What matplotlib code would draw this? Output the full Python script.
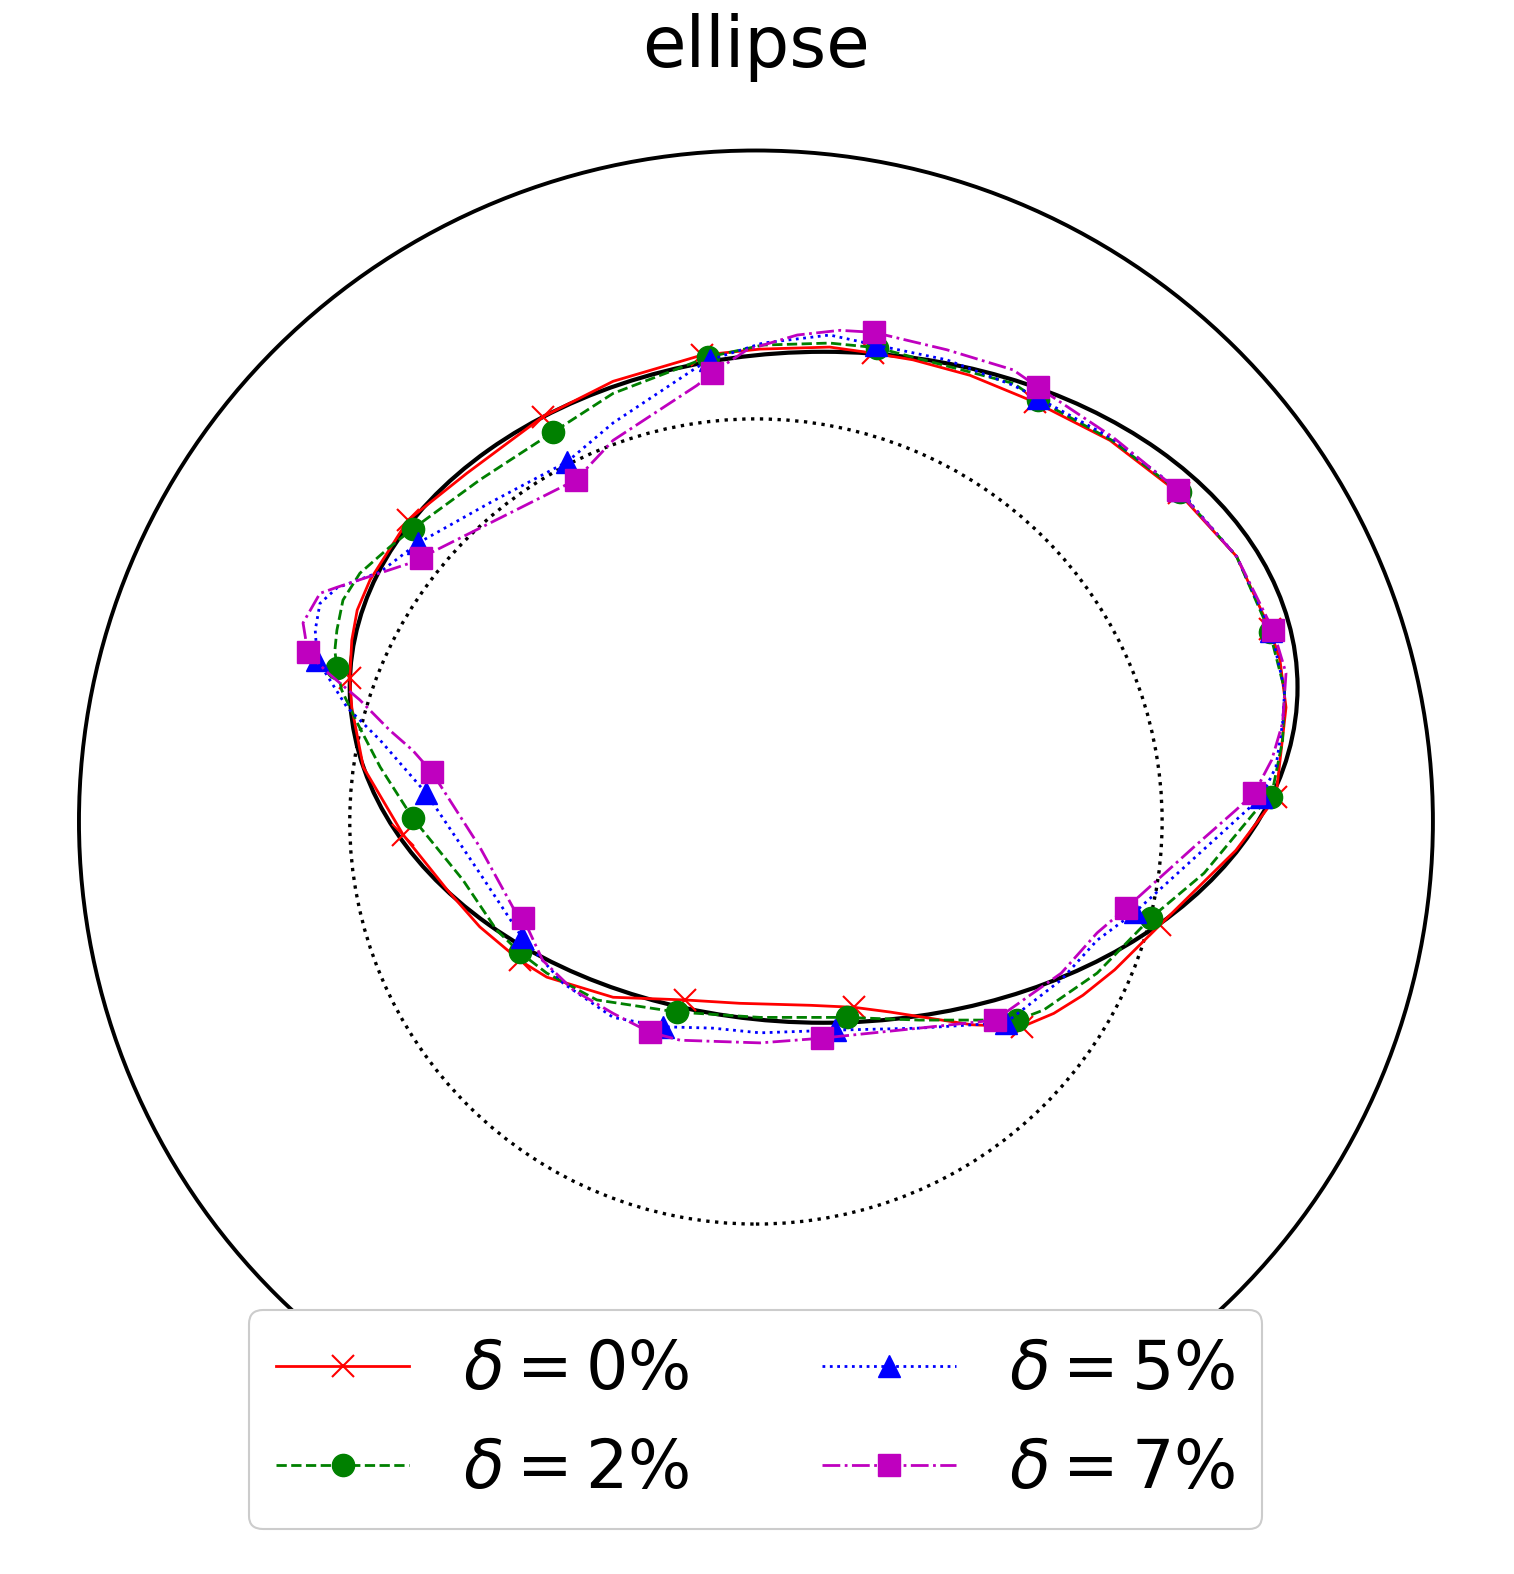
import matplotlib
matplotlib.use("Agg")
import matplotlib.pyplot as plt
from matplotlib import patches

# reference shapes (unit circle, inner dotted circle, true ellipse)
outer_radius = 1.0
inner_radius = 0.6
ellipse_center = (0.1, 0.2)
ellipse_width = 1.4
ellipse_height = 1.0

labels = [r"$\delta = 0\%$", r"$\delta = 2\%$", r"$\delta = 5\%$", r"$\delta = 7\%$"]

# reconstructed boundaries
x_0 = [0.759, 0.710, 0.625, 0.523, 0.412, 0.316, 0.232, 0.173, 0.109, 0.006, -0.080, -0.211,
       -0.315, -0.427, -0.514, -0.570, -0.589, -0.597, -0.600, -0.597, -0.580, -0.521, -0.456,
       -0.408, -0.349, -0.309, -0.211, -0.105, -0.024, 0.081, 0.145, 0.198, 0.319, 0.393, 0.440,
       0.483, 0.530, 0.597, 0.709, 0.768, 0.783, 0.774, 0.759]
y_0 = [0.287, 0.395, 0.489, 0.568, 0.625, 0.665, 0.688, 0.698, 0.707, 0.704, 0.695, 0.656,
       0.603, 0.519, 0.449, 0.360, 0.315, 0.270, 0.214, 0.170, 0.081, -0.020, -0.102,
       -0.157, -0.207, -0.232, -0.262, -0.266, -0.271, -0.274, -0.277, -0.284, -0.303, -0.306, -0.286,
       -0.259, -0.221, -0.154, -0.043, 0.036, 0.170, 0.241, 0.287]
marks_0 = [0, 2, 4, 7, 10, 12, 14, 18, 21, 24, 27, 30, 33, 37, 39]

x_2 = [0.759, 0.710, 0.626, 0.526, 0.417, 0.380, 0.232, 0.179, 0.109, 0.010, -0.071, -0.211,
       -0.300, -0.408, -0.507, -0.541, -0.585, -0.610, -0.619, -0.622, -0.619, -0.612, -0.589,
       -0.555, -0.507, -0.433, -0.383, -0.349, -0.309, -0.235, -0.117, 0.006, 0.134, 0.241, 0.386,
       0.425, 0.504, 0.583, 0.662, 0.736, 0.761, 0.778, 0.781, 0.759]
y_2 = [0.282, 0.395, 0.491, 0.568, 0.628, 0.653, 0.692, 0.706, 0.713, 0.710, 0.692, 0.638,
       0.580, 0.509, 0.436, 0.409, 0.370, 0.330, 0.285, 0.255, 0.229, 0.196, 0.147,
       0.081, 0.005, -0.087, -0.162, -0.195, -0.226, -0.266, -0.284, -0.292, -0.292, -0.296, -0.296,
       -0.281, -0.226, -0.144, -0.077, 0.013, 0.036, 0.121, 0.196, 0.282]
marks_2 = [0, 2, 4, 7, 10, 12, 14, 20, 24, 27, 30, 32, 34, 37, 40]

x_5 = [0.761, 0.710, 0.625, 0.526, 0.417, 0.380, 0.282, 0.177, 0.109, 0.010, -0.068, -0.087,
       -0.211, -0.279, -0.393, -0.499, -0.555, -0.619, -0.644, -0.651, -0.648, -0.604, -0.555,
       -0.487, -0.408, -0.346, -0.285, -0.211, -0.137, -0.064, 0.006, 0.117, 0.241, 0.369, 0.451,
       0.504, 0.560, 0.709, 0.746, 0.768, 0.778, 0.781, 0.761]
y_5 = [0.284, 0.395, 0.494, 0.571, 0.631, 0.650, 0.688, 0.710, 0.725, 0.713, 0.688, 0.677,
       0.594, 0.536, 0.475, 0.415, 0.372, 0.348, 0.325, 0.285, 0.241, 0.170, 0.121,
       0.042, -0.077, -0.172, -0.241, -0.292, -0.306, -0.308, -0.315, -0.311, -0.308, -0.300, -0.236,
       -0.177, -0.135, 0.002, 0.036, 0.081, 0.147, 0.196, 0.284]
marks_5 = [0, 2, 4, 7, 10, 13, 15, 20, 23, 25, 28, 31, 33, 36, 38]

x_7 = [0.764, 0.710, 0.623, 0.527, 0.417, 0.380, 0.282, 0.174, 0.124, 0.061, -0.013, -0.065,
       -0.087, -0.211, -0.266, -0.495, -0.511, -0.619, -0.644, -0.669, -0.662, -0.634, -0.585,
       -0.541, -0.507, -0.479, -0.408, -0.359, -0.344, -0.315, -0.270, -0.211, -0.157, -0.112, 0.006,
       0.097, 0.241, 0.353, 0.451, 0.504, 0.547, 0.647, 0.709, 0.736, 0.762, 0.778, 0.783, 0.764]
y_7 = [0.285, 0.395, 0.494, 0.573, 0.647, 0.673, 0.703, 0.729, 0.732, 0.725, 0.703, 0.668,
       0.650, 0.568, 0.509, 0.393, 0.385, 0.349, 0.340, 0.296, 0.252, 0.223, 0.181,
       0.136, 0.106, 0.074, -0.038, -0.128, -0.144, -0.207, -0.251, -0.286, -0.314, -0.326, -0.330,
       -0.323, -0.308, -0.296, -0.226, -0.166, -0.129, -0.038, 0.017, 0.042, 0.092, 0.147, 0.221, 0.285]
marks_7 = [0, 2, 4, 7, 11, 14, 15, 20, 25, 28, 32, 35, 37, 40, 43]

fig = plt.figure(figsize=(15.14, 15.74), dpi=100)
ax = fig.add_axes([0.0298, 0.0305, 0.939, 0.8952])
ax.set_xlim(-1.05, 1.05)
ax.set_ylim(-1.05, 1.05)
ax.axis("off")

ax.add_patch(patches.Circle((0, 0), outer_radius, fill=False, edgecolor="k", linewidth=2.8))
ax.add_patch(patches.Circle((0, 0), inner_radius, fill=False, edgecolor="k",
                            linewidth=2.4, linestyle=":"))
ax.add_patch(patches.Ellipse(ellipse_center, ellipse_width, ellipse_height, fill=False,
                             edgecolor="k", linewidth=3.0))

ms = 16
ax.plot(x_0, y_0, "r-", marker="x", markevery=marks_0, markersize=ms, mew=1.5, lw=2, label=labels[0])
ax.plot(x_2, y_2, "g--", marker="o", markevery=marks_2, markersize=ms, lw=2, label=labels[1])
ax.plot(x_5, y_5, "b:", marker="^", markevery=marks_5, markersize=ms, lw=2, label=labels[2])
ax.plot(x_7, y_7, "m-.", marker="s", markevery=marks_7, markersize=ms, lw=2, label=labels[3])

fig.text(0.4993, 0.9574, "ellipse", fontsize=51, ha="center", va="baseline")

leg = fig.legend(loc="lower center", bbox_to_anchor=(0.4992, 0.0286), borderaxespad=0,
                 ncol=2, fontsize=48, framealpha=1)
leg.get_frame().set_linewidth(1.5)

fig.savefig("out.png", dpi=100)
